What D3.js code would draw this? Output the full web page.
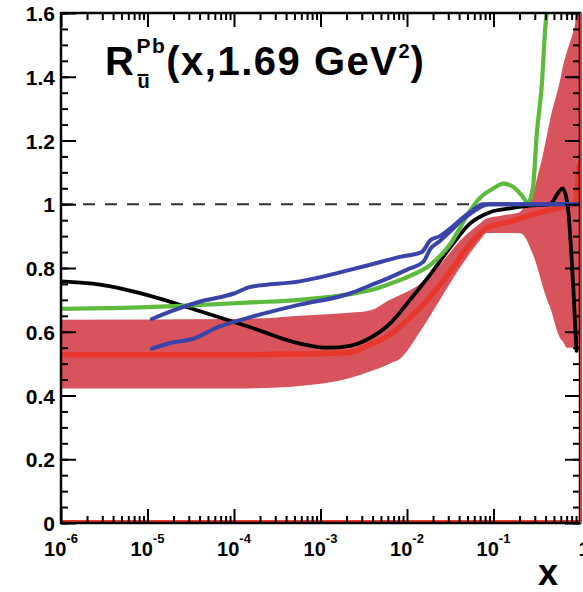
<!DOCTYPE html>
<html>
<head>
<meta charset="utf-8">
<script src="https://cdn.jsdelivr.net/npm/d3@7"></script>
<style>
  body { margin: 0; background: #fff; }
  svg text { font-family: "Liberation Sans", Arial, Helvetica, sans-serif; font-weight: bold; fill: #000; }
</style>
</head>
<body>
<div id="chart"></div>
<script>
// x values are stored as log10(x)

// uncertainty band
var bandX  = [-6, -4, -3.5, -3.24, -2.92, -2.66, -2.43, -2.2, -2.08, -1.85, -1.62, -1.39, -1.156, -1.08, -0.9, -0.7, -0.62, -0.58, -0.54, -0.48, -0.46, -0.38, -0.35, -0.23, -0.2, -0.15, -0.08, -0.06, -0.04, -0.015, 0];
var bandLo = [0.422, 0.422, 0.425, 0.43, 0.44, 0.455, 0.475, 0.50, 0.515, 0.60, 0.70, 0.80, 0.887, 0.91, 0.91, 0.91, 0.89, 0.865, 0.84, 0.79, 0.77, 0.70, 0.68, 0.58, 0.57, 0.55, 0.55, 0.55, 0.55, 0.55, 0];
var bandHi = [0.638, 0.64, 0.645, 0.65, 0.655, 0.66, 0.667, 0.70, 0.715, 0.75, 0.81, 0.885, 0.94, 0.955, 0.965, 0.975, 1.0, 1.01, 1.035, 1.1, 1.12, 1.22, 1.26, 1.39, 1.43, 1.48, 1.54, 1.56, 1.6, 1.6, 1.6];

// central red curve
var redX = [-6, -4, -3.24, -2.66, -2.43, -2.2, -1.965, -1.73, -1.5, -1.27, -1.08, -0.81, -0.58, -0.38, -0.2, -0.06, -0.03, -0.01];
var redY = [0.528, 0.528, 0.53, 0.535, 0.56, 0.59, 0.645, 0.71, 0.79, 0.875, 0.925, 0.945, 0.965, 0.98, 0.99, 1.0, 1.05, 1.12];

// black curve
var blackX = [-6, -5.55, -5, -4.4, -3.82, -3.24, -2.92, -2.66, -2.43, -2.2, -1.965, -1.73, -1.5, -1.27, -1.04, -0.81, -0.6, -0.35, -0.2, -0.14, -0.08, -0.04];
var blackY = [0.758, 0.748, 0.715, 0.665, 0.615, 0.563, 0.55, 0.556, 0.58, 0.625, 0.70, 0.78, 0.865, 0.94, 0.975, 0.987, 0.995, 1.0, 1.05, 0.99, 0.75, 0.54];

// green curve
var greenX = [-6, -5, -4.39, -3.8, -3.24, -2.66, -2.43, -2.2, -1.965, -1.73, -1.5, -1.27, -1.156, -1.0, -0.89, -0.775, -0.68, -0.6, -0.56, -0.54, -0.5, -0.44, -0.405, -0.38, -0.36];
var greenY = [0.672, 0.677, 0.684, 0.692, 0.70, 0.718, 0.73, 0.75, 0.775, 0.81, 0.875, 0.98, 1.02, 1.05, 1.065, 1.055, 1.03, 1.005, 1.03, 1.06, 1.22, 1.38, 1.54, 1.62, 1.7];

// two blue curves
var blueUpX = [-4.95, -4.7, -4.39, -4.0, -3.82, -3.24, -2.66, -2.43, -2.08, -1.83, -1.73, -1.62, -1.5, -1.39, -1.27, -1.12, 0];
var blueUpY = [0.64, 0.667, 0.695, 0.72, 0.74, 0.758, 0.794, 0.81, 0.835, 0.85, 0.887, 0.90, 0.924, 0.95, 0.975, 1.0, 1.0];
var blueLoX = [-4.95, -4.7, -4.47, -4.2, -3.82, -3.24, -2.66, -2.43, -2.2, -2.0, -1.81, -1.73, -1.62, -1.5, -1.39, -1.27, -1.12, -1.04, 0];
var blueLoY = [0.547, 0.567, 0.578, 0.613, 0.645, 0.685, 0.72, 0.745, 0.77, 0.795, 0.82, 0.86, 0.885, 0.915, 0.945, 0.97, 0.995, 1.0, 1.0];

// axis labels
var yTickValues = [0, 0.2, 0.4, 0.6, 0.8, 1, 1.2, 1.4, 1.6];
var yTickLabels = ["0", "0.2", "0.4", "0.6", "0.8", "1", "1.2", "1.4", "1.6"];
var xTickPowers = [-6, -5, -4, -3, -2, -1, 0];

var W = 583, H = 592;
var pLeft = 61, pRight = 580, pTop = 13, pBottom = 523;

var svg = d3.select("#chart").append("svg")
  .attr("width", W)
  .attr("height", H);

var x = d3.scaleLog().domain([1e-6, 1]).range([pLeft, pRight]);
var y = d3.scaleLinear().domain([0, 1.6]).range([pBottom, pTop]);

function lx(v) { return x(Math.pow(10, v)); }

svg.append("clipPath").attr("id", "plot")
  .append("rect")
  .attr("x", pLeft).attr("y", pTop)
  .attr("width", pRight - pLeft).attr("height", pBottom - pTop);

var plot = svg.append("g").attr("clip-path", "url(#plot)");

// band
var band = d3.area()
  .x(function (d) { return lx(d[0]); })
  .y0(function (d) { return y(d[1]); })
  .y1(function (d) { return y(d[2]); })
  .curve(d3.curveMonotoneX);

plot.append("path")
  .datum(bandX.map(function (v, i) { return [v, bandLo[i], bandHi[i]]; }))
  .attr("d", band)
  .attr("fill", "#d8535b");

// dashed line at 1
plot.append("line")
  .attr("x1", pLeft).attr("x2", pRight)
  .attr("y1", y(1)).attr("y2", y(1))
  .attr("stroke", "#333")
  .attr("stroke-width", 2.2)
  .attr("stroke-dasharray", "12,10");

var line = d3.line()
  .x(function (d) { return lx(d[0]); })
  .y(function (d) { return y(d[1]); })
  .curve(d3.curveMonotoneX);

function drawCurve(xs, ys, color, w) {
  plot.append("path")
    .datum(xs.map(function (v, i) { return [v, ys[i]]; }))
    .attr("d", line)
    .attr("fill", "none")
    .attr("stroke", color)
    .attr("stroke-width", w)
    .attr("stroke-linejoin", "round")
    .attr("stroke-linecap", "round");
}

drawCurve(redX, redY, "#e8382b", 5.5);
drawCurve(blackX, blackY, "#000", 3.8);
drawCurve(greenX, greenY, "#5dbb3c", 4.2);
drawCurve(blueLoX, blueLoY, "#3a44a8", 4);
drawCurve(blueUpX, blueUpY, "#3a44a8", 4);

// red edge along the bottom
svg.append("line")
  .attr("x1", pLeft).attr("x2", pRight)
  .attr("y1", y(0) - 2).attr("y2", y(0) - 2)
  .attr("stroke", "#e8382b").attr("stroke-width", 2);

// ---- axes ----
var xMajor = xTickPowers.map(function (p) { return Math.pow(10, p); });
var xMinor = [];
xTickPowers.slice(0, -1).forEach(function (p) {
  for (var m = 2; m < 10; m++) xMinor.push(m * Math.pow(10, p));
});
var yMajor = yTickValues;
var yMinor = d3.range(0, 1.6001, 0.05);

function ticks(gen, tr, vals, size) {
  svg.append("g")
    .attr("transform", tr)
    .call(gen.tickValues(vals).tickSize(size).tickSizeOuter(0).tickFormat(""))
    .call(function (g) {
      g.select(".domain").remove();
      g.selectAll("line").attr("stroke", "#000").attr("stroke-width", 2);
    });
}

ticks(d3.axisBottom(x), "translate(0," + pBottom + ")", xMinor, -7);
ticks(d3.axisBottom(x), "translate(0," + pBottom + ")", xMajor, -14);
ticks(d3.axisTop(x), "translate(0," + pTop + ")", xMinor, -7);
ticks(d3.axisTop(x), "translate(0," + pTop + ")", xMajor, -14);
ticks(d3.axisLeft(y), "translate(" + pLeft + ",0)", yMinor, -7);
ticks(d3.axisLeft(y), "translate(" + pLeft + ",0)", yMajor, -15);
ticks(d3.axisRight(y), "translate(" + pRight + ",0)", yMinor, -7);
ticks(d3.axisRight(y), "translate(" + pRight + ",0)", yMajor, -15);

// frame
svg.append("rect")
  .attr("x", pLeft).attr("y", pTop)
  .attr("width", pRight - pLeft).attr("height", pBottom - pTop)
  .attr("fill", "none")
  .attr("stroke", "#000")
  .attr("stroke-width", 2.5);

// right red edge
svg.append("line")
  .attr("x1", pRight + 1).attr("x2", pRight + 1)
  .attr("y1", y(0)).attr("y2", y(1.6))
  .attr("stroke", "#e8382b").attr("stroke-width", 2);

// y labels
svg.selectAll(".ylab")
  .data(yTickValues)
  .enter()
  .append("text")
  .attr("x", pLeft - 6)
  .attr("y", function (d) { return y(d) + 8; })
  .attr("text-anchor", "end")
  .style("font-size", "21px")
  .text(function (d, i) { return yTickLabels[i]; });

// x labels: 10^p
xTickPowers.forEach(function (p) {
  var t = svg.append("text")
    .attr("y", 556)
    .style("font-size", "20px");
  if (p === 0) {
    t.text("1");
  } else {
    t.append("tspan").text("10");
    t.append("tspan").attr("dy", -13).style("font-size", "13px").text(p);
  }
  var w = t.node().getComputedTextLength();
  t.attr("x", x(Math.pow(10, p)) - w / 2 + (p === 0 ? 4 : 0));
});

// x axis title
svg.append("text")
  .attr("x", 558)
  .attr("y", 585)
  .attr("text-anchor", "end")
  .style("font-size", "36px")
  .text("x");

// plot title R^Pb_ubar(x,1.69 GeV^2)
var tx = 105, base = 75;
var tR = svg.append("text").attr("x", tx).attr("y", base)
  .style("font-size", "40px").style("letter-spacing", "1.5px").text("R");
var rEnd = tx + tR.node().getComputedTextLength();
var tPb = svg.append("text").attr("x", rEnd + 1).attr("y", 53)
  .style("font-size", "21px").style("letter-spacing", "1.5px").text("Pb");
svg.append("text").attr("x", rEnd + 2).attr("y", 88)
  .style("font-size", "20px").text("u");
svg.append("line")
  .attr("x1", rEnd + 2).attr("x2", rEnd + 13)
  .attr("y1", 75).attr("y2", 75)
  .attr("stroke", "#000").attr("stroke-width", 2.2);
var pbEnd = rEnd + 1 + tPb.node().getComputedTextLength();
var tMain = svg.append("text").attr("x", pbEnd).attr("y", base)
  .style("font-size", "40px").style("letter-spacing", "1.5px").text("(x,1.69 GeV");
var mEnd = pbEnd + tMain.node().getComputedTextLength();
var t2 = svg.append("text").attr("x", mEnd).attr("y", 58)
  .style("font-size", "20px").text("2");
var end2 = mEnd + t2.node().getComputedTextLength() + 1;
svg.append("text").attr("x", end2).attr("y", base)
  .style("font-size", "40px").text(")");
</script>
</body>
</html>
